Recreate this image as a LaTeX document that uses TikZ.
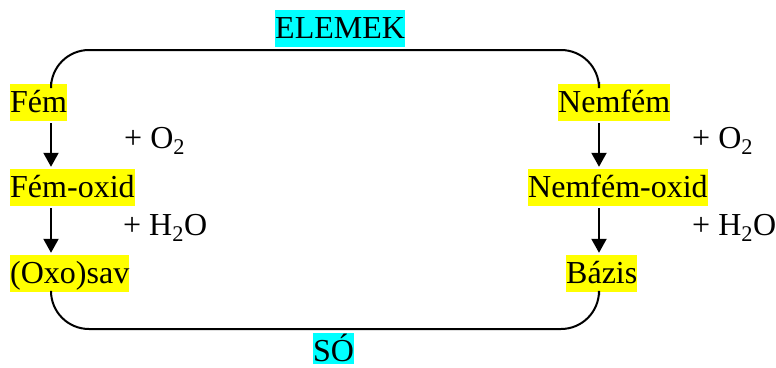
\documentclass[tikz,border=0pt]{standalone}
\usepackage{fontspec}
\setmainfont{Liberation Serif}
\usetikzlibrary{arrows.meta}
\definecolor{hlyellow}{RGB}{255,255,0}
\definecolor{hlcyan}{RGB}{0,255,255}
\tikzset{
  hl/.style={fill=hlyellow, inner sep=0pt, text height=28pt, text depth=9pt, anchor=base west, font=\fontsize{32}{37}\selectfont},
  hc/.style={hl, fill=hlcyan},
  lbl/.style={inner sep=0pt, anchor=base west, font=\fontsize{32}{37}\selectfont},
  arr/.style={line width=2pt, -{Triangle[width=15pt,length=14pt]}},
  conn/.style={line width=2pt, rounded corners=38pt},
}
\begin{document}
\begin{tikzpicture}[x=1pt,y=-1pt]
\useasboundingbox (0,0) rectangle (776,367);
% nodes
\node[hc] (elemek) at (275,38) {ELEMEK};
\node[hc, text depth=3pt] (so) at (313,361) {SÓ};
\node[hl] (fem) at (10,112) {Fém};
\node[hl] (femoxid) at (10,197) {Fém-oxid};
\node[hl] (sav) at (10,283) {(Oxo)sav};
\node[hl] (nemfem) at (558,112) {Nemfém};
\node[hl] (nemfemoxid) at (528,197) {Nemfém-oxid};
\node[hl] (bazis) at (566,283) {Bázis};
\node[lbl] (o2l) at (124,148) {+ O\textsubscript{2}};
\node[lbl] (h2ol) at (123,235) {+ H\textsubscript{2}O};
\node[lbl] (o2r) at (692,148) {+ O\textsubscript{2}};
\node[lbl] (h2or) at (692,235) {+ H\textsubscript{2}O};
% guide coordinates
\coordinate (L) at (51,0);
\coordinate (R) at (599,0);
\coordinate (top) at (0,50);
\coordinate (bot) at (0,329);
% arrows
\draw[arr, shorten <=2pt, shorten >=2pt] (fem.south -| L) -- (femoxid.north -| L);
\draw[arr, shorten <=2pt, shorten >=2pt] (femoxid.south -| L) -- (sav.north -| L);
\draw[arr, shorten <=2pt, shorten >=2pt] (nemfem.south -| R) -- (nemfemoxid.north -| R);
\draw[arr, shorten <=2pt, shorten >=2pt] (nemfemoxid.south -| R) -- (bazis.north -| R);
% connectors
\draw[conn] ([yshift=2pt]fem.north -| L) -- (L |- top) -- (R |- top) -- ([yshift=2pt]nemfem.north -| R);
\draw[conn] ([yshift=-3pt]sav.south -| L) -- (L |- bot) -- (R |- bot) -- ([yshift=-3pt]bazis.south -| R);
\end{tikzpicture}
\end{document}
